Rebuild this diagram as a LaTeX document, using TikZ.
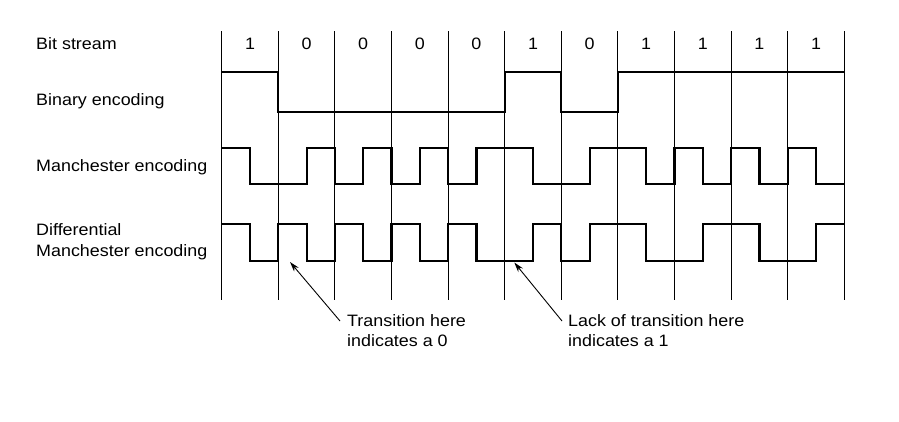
\documentclass[tikz,border=0pt]{standalone}
\usepackage{fontspec}
\setmainfont{Liberation Sans}
\newfontfamily\widesans[FakeStretch=1.085]{Liberation Sans}
\usetikzlibrary{arrows.meta}
\begin{document}
\begin{tikzpicture}[x=1pt,y=-1pt,
  grid/.style={line width=0.9pt,black},
  signal/.style={line width=2.2pt,black,line join=miter},
  lbl/.style={anchor=base west,inner sep=0pt,font=\widesans\fontsize{16.5}{21}\selectfont},
  bit/.style={anchor=base,inner sep=0pt,font=\widesans\fontsize{16.5}{21}\selectfont},
  note/.style={line width=0.9pt,-{Stealth[length=10pt,width=6pt]}}]
\useasboundingbox[fill=white] (0,0) rectangle (899,421);
\def\xo{221.7}
\def\w{56.6}
\def\h{28.3}
% grid lines
\foreach \i in {0,...,11}{
  \draw[grid] ({\xo+\i*\w},31) -- ({\xo+\i*\w},300);
}
% labels
\node[lbl] (lbs) at (36,49) {Bit stream};
\node[lbl] (lbin) at (36,105) {Binary encoding};
\node[lbl] (lman) at (36,171.7) {Manchester encoding};
\node[lbl] (ldiff1) at (36,235) {Differential};
\node[lbl] (ldiff2) at (36,256.3) {Manchester encoding};
% bits
\foreach \b [count=\k from 0] in {1,0,0,0,0,1,0,1,1,1,1}{
  \node[bit] (b\k) at ({\xo+(\k+0.5)*\w},49) {\b};
}
% binary
\draw[signal] (\xo,72.3)
  \foreach \l [count=\k from 0] in {1,0,0,0,0,1,0,1,1,1,1}
  { -- ({\xo+\k*\w},{111.7-39.4*\l}) -- ({\xo+(\k+1)*\w},{111.7-39.4*\l}) };
% manchester
\draw[signal] (\xo,147.7)
  \foreach \l [count=\k from 0] in {1,0,0,1,0,1,0,1,0,1,1,0,0,1,1,0,1,0,1,0,1,0}
  { -- ({\xo+\k*\h},{184.3-36.6*\l}) -- ({\xo+(\k+1)*\h},{184.3-36.6*\l}) };
% differential manchester
\draw[signal] (\xo,224)
  \foreach \l [count=\k from 0] in {1,0,1,0,1,0,1,0,1,0,0,1,0,1,1,0,0,1,1,0,0,1}
  { -- ({\xo+\k*\h},{260.7-36.7*\l}) -- ({\xo+(\k+1)*\h},{260.7-36.7*\l}) };
% notes
\node[lbl] (n1a) at (347,326.7) {Transition here};
\node[lbl] (n1b) at (347,346) {indicates a 0};
\node[lbl] (n2a) at (568,326.7) {Lack of transition here};
\node[lbl] (n2b) at (568,346) {indicates a 1};
\coordinate (t1) at (290,262);
\coordinate (s1) at (340,321);
\coordinate (t2) at (514.3,262.5);
\coordinate (s2) at (562,321);
\draw[note] (s1) -- (t1);
\draw[note] (s2) -- (t2);
\end{tikzpicture}
\end{document}
